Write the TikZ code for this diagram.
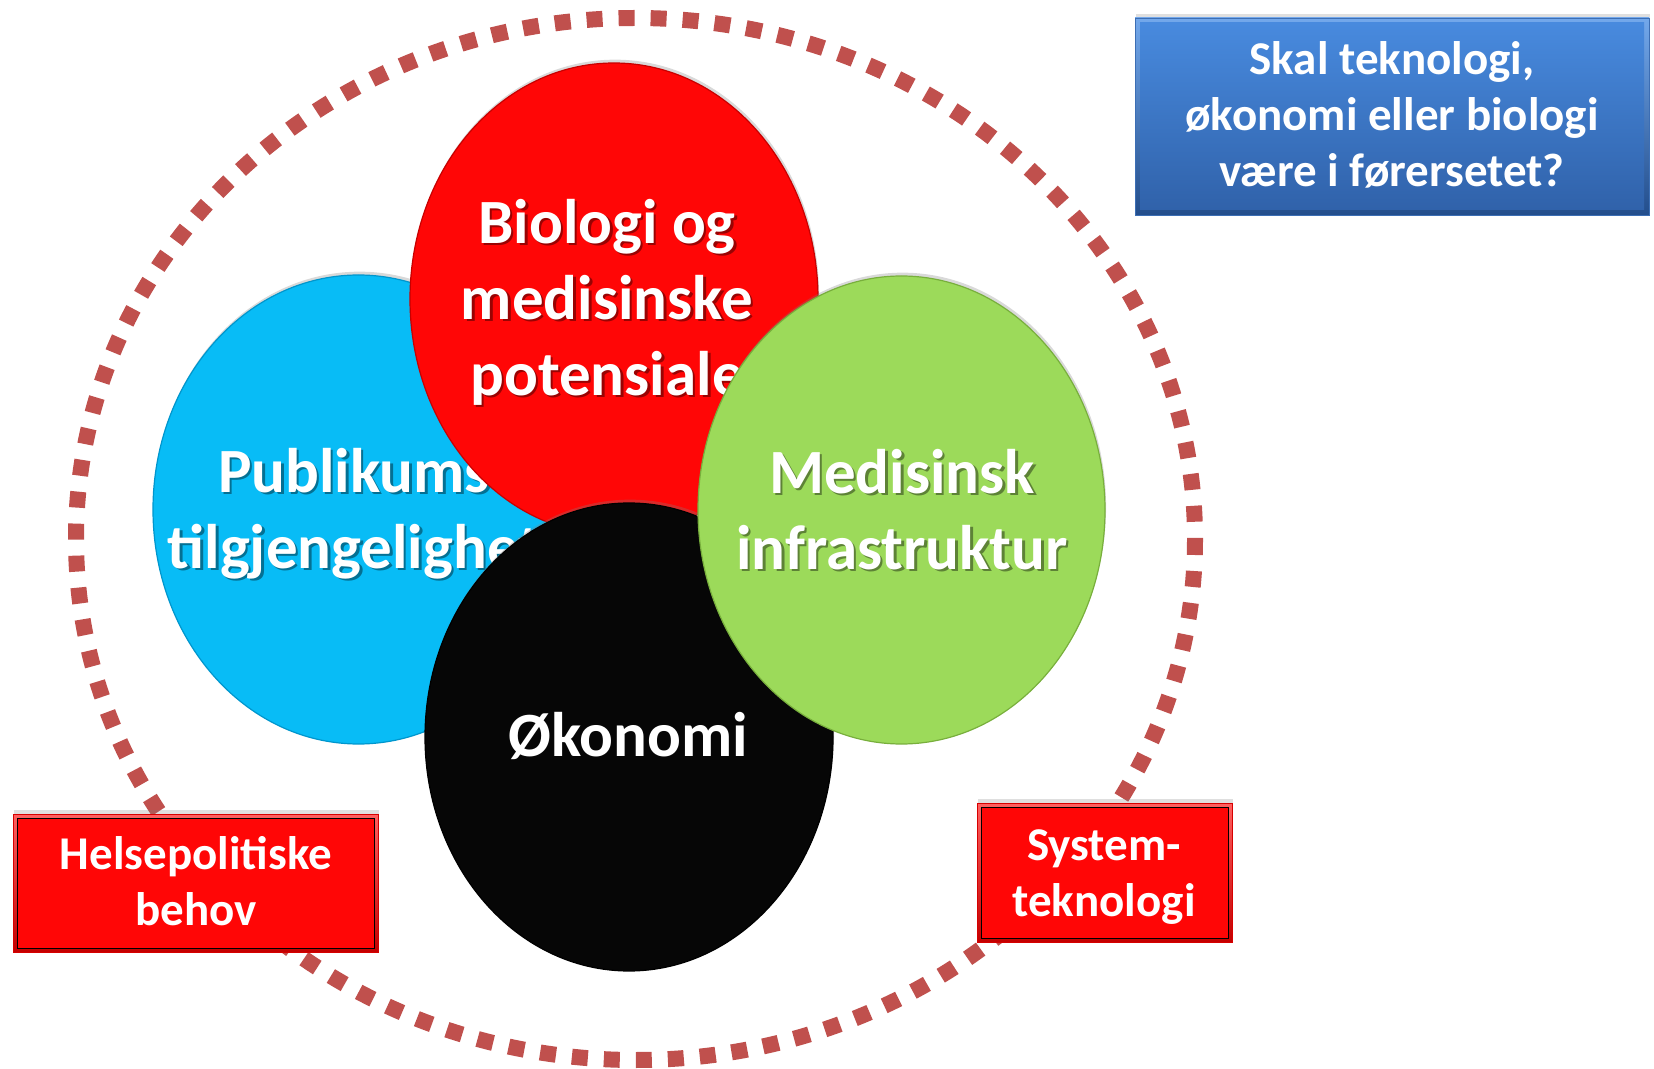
\documentclass[tikz,border=0pt]{standalone}
\usepackage{fontspec}
\setmainfont{Carlito}
\usetikzlibrary{shadows}

\begin{document}
\begin{tikzpicture}[x=0.75pt,y=0.75pt,yscale=-1,xscale=1,
	ring/.style={draw={rgb, 255:red, 192; green, 80; blue, 77 }, line width=12pt, dash pattern=on 12pt off 12.02pt},
	bubble/.style={line width=0.9pt, drop shadow={opacity=0.3, shadow xshift=0.8pt, shadow yshift=2.5pt}},
	bigtxt/.style={font=\fontsize{47.25}{57}\selectfont\bfseries, text=white, align=center, inner sep=0pt},
	bigshade/.style={bigtxt, text=black, text opacity=0.4},
	tagedge/.style={top color={rgb, 255:red, 255; green, 95; blue, 95 }, bottom color={rgb, 255:red, 195; green, 0; blue, 0 }, draw={rgb, 255:red, 215; green, 0; blue, 0 }, line width=0.5pt, drop shadow={opacity=0.25, shadow xshift=1pt, shadow yshift=3pt}},
	tagface/.style={fill={rgb, 255:red, 255; green, 6; blue, 6 }},
	tagtxt/.style={font=\fontsize{35.25}{42}\selectfont\bfseries, text=white, align=center, inner sep=0pt}
	]
	\useasboundingbox (0,0) rectangle (1654,1069);
	% dotted outer ring
	\draw [ring] (635.5,539) ellipse (559.5 and 521);
	% the four bubbles, back to front
	\draw [bubble, draw={rgb, 255:red, 0; green, 150; blue, 205 }, fill={rgb, 255:red, 8; green, 188; blue, 246 }] (358.5,509.5) ellipse (205.5 and 234.5);
	\draw (356.5,516) node [bigshade] (pub-s) {Publikums\\tilgjengelighet};
	\draw (354,513.5) node [bigtxt] (pub) {Publikums\\tilgjengelighet};
	\draw [bubble, draw={rgb, 255:red, 200; green, 0; blue, 0 }, fill={rgb, 255:red, 255; green, 6; blue, 6 }] (614,299) ellipse (204 and 236);
	\draw (609.5,304.5) node [bigshade] (bio-s) {Biologi og\\medisinske\\potensiale};
	\draw (607,302) node [bigtxt] (bio) {Biologi og\\medisinske\\potensiale};
	\draw [bubble, draw={rgb, 255:red, 0; green, 0; blue, 0 }, fill={rgb, 255:red, 6; green, 6; blue, 6 }] (629,737) ellipse (204 and 234);
	\draw (628,736) node [bigtxt] (oko) {Økonomi};
	\draw [bubble, draw={rgb, 255:red, 120; green, 175; blue, 60 }, fill={rgb, 255:red, 156; green, 218; blue, 90 }] (901.5,510) ellipse (203.5 and 234);
	\draw (904.5,512) node [bigshade] (med-s) {Medisinsk\\infrastruktur};
	\draw (902,509.5) node [bigtxt] (med) {Medisinsk\\infrastruktur};
	% question box
	\draw [top color={rgb, 255:red, 115; green, 168; blue, 235 }, bottom color={rgb, 255:red, 35; green, 78; blue, 140 }, draw={rgb, 255:red, 60; green, 110; blue, 180 }, line width=0.5pt, drop shadow={opacity=0.25, shadow xshift=1pt, shadow yshift=3pt}] (1135,18) rectangle (1649,215);
	\draw [top color={rgb, 255:red, 72; green, 138; blue, 222 }, bottom color={rgb, 255:red, 48; green, 98; blue, 170 }, draw=none] (1140,23) rectangle (1644,210);
	\draw (1392,115) node [tagtxt] (question) {Skal teknologi,\\økonomi eller biologi\\være i førersetet?};
	% red tags
	\draw [tagedge] (13,814) rectangle (378,952);
	\draw [tagface] (17,818) rectangle (374,948);
	\draw (196,881.5) node [tagtxt] (helse) {Helsepolitiske\\behov};
	\draw [tagedge] (977,803) rectangle (1232,942);
	\draw [tagface] (981,807) rectangle (1228,938);
	\draw (1104,877) node [tagtxt] (system) {System-\\teknologi};
\end{tikzpicture}
\end{document}
